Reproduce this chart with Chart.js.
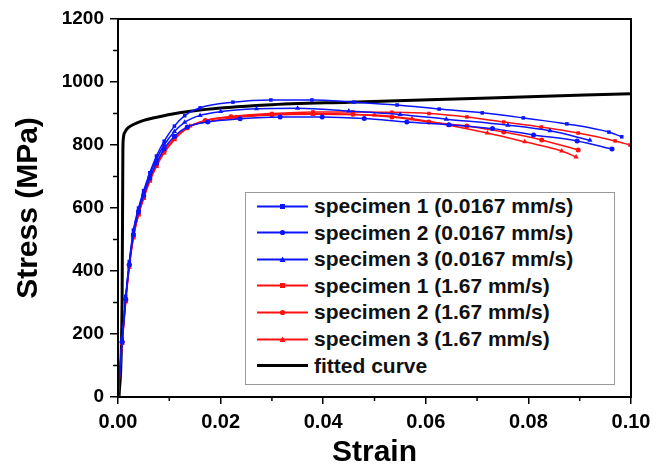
<!DOCTYPE html>
<html lang="en">
<head>
  <meta charset="UTF-8" />
  <title>Stress-strain curves</title>
  <script src="https://cdn.jsdelivr.net/npm/chart.js"></script>
  <style>
    body { margin: 0; background: #fff; }
    .wrap { position: relative; width: 663px; height: 466px; }
    #legendBox {
      position: absolute; left: 245px; top: 192px; width: 370px; height: 193px;
      border: 1px solid #999; background: #fff; box-sizing: border-box;
      font: bold 21px Arial, "Liberation Sans", sans-serif; color: #111;
    }
    .row { position: absolute; left: 0; height: 26px; display: flex; align-items: center; white-space: nowrap; }
    .row svg { margin-left: 11px; margin-right: 6px; }
  </style>
</head>
<body>
<div class="wrap">
  <canvas id="ssChart" width="663" height="466"></canvas>
  <div id="legendBox"></div>
</div>

<script>
  // --- data (strain, stress in MPa) ---
  const slow1Strain = [0, 0.0008, 0.0015, 0.0022, 0.003, 0.004, 0.005, 0.0062, 0.0075, 0.009, 0.011, 0.013, 0.016, 0.0224, 0.0298, 0.0378, 0.046, 0.0544, 0.0626, 0.071, 0.079, 0.0875, 0.0957, 0.0982];
  const slow1Stress = [0, 185, 320, 430, 530, 600, 655, 712, 765, 812, 860, 893, 918, 936, 943, 943, 936, 927, 914, 902, 886, 867, 841, 826];

  const slow2Strain = [0, 0.0008, 0.0015, 0.0022, 0.003, 0.004, 0.005, 0.0062, 0.0075, 0.009, 0.011, 0.0135, 0.0175, 0.0238, 0.0316, 0.0398, 0.048, 0.0563, 0.0645, 0.073, 0.081, 0.0895, 0.0963];
  const slow2Stress = [0, 175, 310, 420, 515, 588, 640, 695, 742, 788, 828, 857, 873, 883, 889, 889, 884, 873, 864, 852, 832, 813, 787];

  const slow3Strain = [0, 0.0008, 0.0015, 0.0022, 0.003, 0.004, 0.005, 0.0062, 0.0075, 0.009, 0.011, 0.013, 0.016, 0.02, 0.027, 0.035, 0.045, 0.055, 0.064, 0.076, 0.0842, 0.092];
  const slow3Stress = [0, 180, 315, 425, 522, 595, 650, 705, 755, 800, 843, 872, 894, 906, 915, 917, 908, 897, 882, 863, 845, 815];

  const fast1Strain = [0, 0.0008, 0.0015, 0.0022, 0.003, 0.004, 0.005, 0.0062, 0.0075, 0.009, 0.011, 0.0135, 0.017, 0.022, 0.03, 0.038, 0.0458, 0.0534, 0.0606, 0.068, 0.0752, 0.0825, 0.0897, 0.0969, 0.0998];
  const fast1Stress = [0, 172, 305, 415, 508, 580, 633, 688, 735, 778, 820, 853, 877, 890, 900, 905, 905, 904, 900, 889, 873, 857, 838, 813, 800];

  const fast2Strain = [0, 0.0008, 0.0015, 0.0022, 0.003, 0.004, 0.005, 0.0062, 0.0075, 0.009, 0.011, 0.0135, 0.017, 0.022, 0.03, 0.038, 0.0458, 0.0534, 0.0606, 0.068, 0.0752, 0.0826, 0.0897];
  const fast2Stress = [0, 174, 307, 418, 510, 582, 635, 690, 737, 780, 822, 855, 878, 890, 897, 900, 898, 889, 873, 860, 841, 816, 784];

  const fast3Strain = [0, 0.0008, 0.0015, 0.0022, 0.003, 0.004, 0.005, 0.0062, 0.0075, 0.009, 0.011, 0.014, 0.0175, 0.023, 0.03, 0.038, 0.05, 0.0573, 0.0645, 0.072, 0.0793, 0.0865, 0.0893];
  const fast3Stress = [0, 170, 302, 412, 505, 578, 630, 685, 732, 775, 817, 860, 874, 887, 895, 898, 895, 883, 863, 838, 810, 781, 762];

  const fitStrain = [0.0002, 0.0008, 0.00095, 0.00105, 0.0014, 0.002, 0.003, 0.005, 0.0095, 0.016, 0.029, 0.045, 0.0725, 0.1];
  const fitStress = [0, 300, 780, 822, 842, 855, 865, 878, 895, 911, 927, 936, 949, 963];

  const seriesNames = [
    'specimen 1 (0.0167 mm/s)', 'specimen 2 (0.0167 mm/s)', 'specimen 3 (0.0167 mm/s)',
    'specimen 1 (1.67 mm/s)', 'specimen 2 (1.67 mm/s)', 'specimen 3 (1.67 mm/s)',
    'fitted curve'
  ];
  const xTicks = [0, 0.02, 0.04, 0.06, 0.08, 0.1];
  const yTicks = [0, 200, 400, 600, 800, 1000, 1200];

  const BLUE = '#0a14ff';
  const RED = '#ff1010';
  const FONT = 'Arial, "Liberation Sans", sans-serif';

  const pairs = (xs, ys) => xs.map((x, i) => ({ x: x, y: ys[i] }));

  function specimen(label, xs, ys, color, shape) {
    return {
      label: label,
      data: pairs(xs, ys),
      borderColor: color,
      backgroundColor: color,
      borderWidth: 1.5,
      pointStyle: shape,
      pointRadius: shape === 'triangle' ? 3 : 2.5,
      pointBorderWidth: 0,
      cubicInterpolationMode: 'monotone',
      showLine: true
    };
  }

  const datasets = [
    specimen(seriesNames[0], slow1Strain, slow1Stress, BLUE, 'rect'),
    specimen(seriesNames[1], slow2Strain, slow2Stress, BLUE, 'circle'),
    specimen(seriesNames[2], slow3Strain, slow3Stress, BLUE, 'triangle'),
    specimen(seriesNames[3], fast1Strain, fast1Stress, RED, 'rect'),
    specimen(seriesNames[4], fast2Strain, fast2Stress, RED, 'circle'),
    specimen(seriesNames[5], fast3Strain, fast3Stress, RED, 'triangle'),
    {
      label: seriesNames[6],
      data: pairs(fitStrain, fitStress),
      borderColor: '#000',
      backgroundColor: '#000',
      borderWidth: 3,
      pointRadius: 0,
      cubicInterpolationMode: 'monotone',
      showLine: true
    }
  ];

  // minor ticks + box frame
  const framePlugin = {
    id: 'frame',
    afterDraw(chart) {
      const ctx = chart.ctx;
      const a = chart.chartArea;
      const xs = chart.scales.x, ys = chart.scales.y;
      ctx.save();
      ctx.strokeStyle = '#000';
      ctx.lineWidth = 1.5;
      ctx.beginPath();
      for (let i = 0; i < xTicks.length - 1; i++) {
        const px = xs.getPixelForValue((xTicks[i] + xTicks[i + 1]) / 2);
        ctx.moveTo(px, a.bottom); ctx.lineTo(px, a.bottom + 4);
      }
      for (let i = 0; i < yTicks.length - 1; i++) {
        const py = ys.getPixelForValue((yTicks[i] + yTicks[i + 1]) / 2);
        ctx.moveTo(a.left, py); ctx.lineTo(a.left - 5, py);
      }
      ctx.stroke();
      ctx.lineWidth = 2;
      ctx.strokeRect(a.left, a.top, a.right - a.left, a.bottom - a.top);
      ctx.restore();
    }
  };

  const chart = new Chart(document.getElementById('ssChart'), {
    type: 'scatter',
    data: { datasets: datasets },
    options: {
      responsive: false,
      animation: false,
      devicePixelRatio: 1,
      layout: { padding: { left: 11, right: 32, top: 19, bottom: 0 } },
      plugins: { legend: { display: false }, tooltip: { enabled: false } },
      scales: {
        x: {
          type: 'linear', min: 0, max: 0.1,
          afterBuildTicks: s => { s.ticks = xTicks.map(v => ({ value: v })); },
          afterFit: s => { s.height = 69; },
          ticks: {
            padding: 6, color: '#000',
            font: { family: FONT, size: 20, weight: 'bold' },
            callback: v => v.toFixed(2)
          },
          grid: { drawOnChartArea: false, drawTicks: true, tickLength: 7, color: '#000', lineWidth: 1.5 },
          border: { display: true, color: '#000', width: 2 },
          title: {
            display: true, text: 'Strain', color: '#000',
            font: { family: FONT, size: 30, weight: 'bold' },
            padding: { top: 0, bottom: -5 }
          }
        },
        y: {
          type: 'linear', min: 0, max: 1200,
          afterBuildTicks: s => { s.ticks = yTicks.map(v => ({ value: v })); },
          afterFit: s => { s.width = 107; },
          ticks: {
            padding: 6, color: '#000',
            font: { family: FONT, size: 19, weight: 'bold' },
            callback: v => String(v)
          },
          grid: { drawOnChartArea: false, drawTicks: true, tickLength: 8, color: '#000', lineWidth: 1.5 },
          border: { display: true, color: '#000', width: 2 },
          title: {
            display: true, text: 'Stress (MPa)', color: '#000',
            font: { family: FONT, size: 30, weight: 'bold' },
            padding: { top: 0, bottom: 0 }
          }
        }
      }
    },
    plugins: [framePlugin]
  });

  // legend inside the plot, built from the datasets
  const box = document.getElementById('legendBox');
  chart.data.datasets.forEach((ds, i) => {
    const row = document.createElement('div');
    row.className = 'row';
    row.style.top = (i * 26.6) + 'px';
    const c = ds.borderColor;
    let mark = '';
    if (ds.pointStyle === 'rect') mark = `<rect x="23" y="3" width="5" height="5" fill="${c}"/>`;
    else if (ds.pointStyle === 'circle') mark = `<circle cx="25.5" cy="5.5" r="2.6" fill="${c}"/>`;
    else if (ds.pointStyle === 'triangle') mark = `<polygon points="25.5,2.5 28.5,8 22.5,8" fill="${c}"/>`;
    const w = ds.borderWidth === 3 ? 3 : 2;
    row.innerHTML = `<svg width="51" height="11"><line x1="0" y1="5.5" x2="51" y2="5.5" stroke="${c}" stroke-width="${w}"/>${mark}</svg><span>${ds.label}</span>`;
    box.appendChild(row);
  });
</script>
</body>
</html>
